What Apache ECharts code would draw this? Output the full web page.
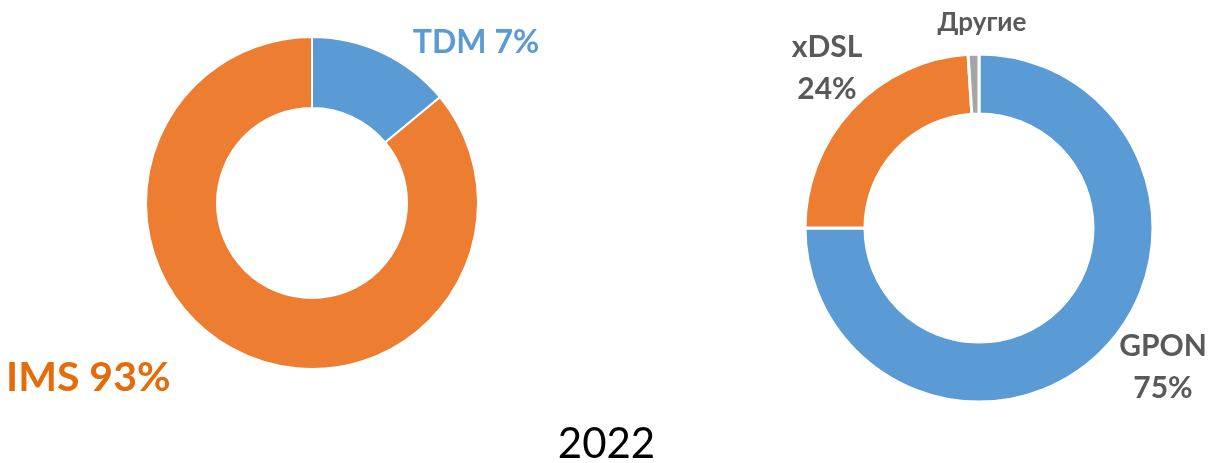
<!DOCTYPE html>
<html>
<head>
<meta charset="utf-8">
<script src="https://cdn.jsdelivr.net/npm/echarts@6/dist/echarts.min.js"></script>
<style>
  html, body { margin: 0; padding: 0; background: #fff; }
  #main { width: 1213px; height: 463px; }
</style>
</head>
<body>
<div id="main"></div>
<script>
// left donut: voice (slice sizes as drawn in the picture)
var voiceNames = ["TDM", "IMS"];
var voiceValues = [14, 86];
var voiceLabels = ["TDM 7%", "IMS 93%"];

// right donut: access
var accessNames = ["GPON", "xDSL", "Другие"];
var accessValues = [75, 24, 1];
var accessLabels = ["GPON\n75%", "xDSL\n24%", "Другие"];

var yearLabel = "2022";

var blue = "#5b9bd5", orange = "#ed7d31", grey = "#a5a5a5";

// label anchor points (pixels)
var voicePos = [[476, 43, "center"], [6, 378, "left"]];
var accessPos = [[1163, 367], [827, 68], [982, 23]];

var myChart = echarts.init(document.getElementById("main"));

var option = {
  animation: false,
  title: {
    text: yearLabel,
    left: "center",
    top: 418,
    textStyle: { fontFamily: "Lato", fontSize: 42, fontWeight: "normal", color: "#000" }
  },
  series: [
    {
      type: "pie",
      center: [312, 203],
      radius: [95, 166],
      startAngle: 90,
      avoidLabelOverlap: false,
      itemStyle: { borderColor: "#fff", borderWidth: 2 },
      label: {
        show: true,
        position: "outside",
        fontFamily: "Lato",
        fontWeight: "bold",
        formatter: function (p) { return voiceLabels[p.dataIndex]; }
      },
      labelLine: { show: false },
      labelLayout: function (p) {
        var q = voicePos[p.dataIndex];
        return { x: q[0], y: q[1], align: q[2], verticalAlign: "middle" };
      },
      data: voiceNames.map(function (n, i) {
        return {
          name: n,
          value: voiceValues[i],
          itemStyle: { color: [blue, orange][i] },
          label: i === 0 ? { fontSize: 32, color: "#5b9bd5" } : { fontSize: 41, color: "#e46c0a" }
        };
      })
    },
    {
      type: "pie",
      center: [979, 228],
      radius: [114, 174],
      startAngle: 90,
      avoidLabelOverlap: false,
      itemStyle: { borderColor: "#fff", borderWidth: 3 },
      label: {
        show: true,
        position: "outside",
        fontFamily: "Lato",
        fontWeight: "bold",
        color: "#595959",
        fontSize: 30,
        lineHeight: 42,
        formatter: function (p) { return accessLabels[p.dataIndex]; }
      },
      labelLine: { show: false },
      labelLayout: function (p) {
        return { x: accessPos[p.dataIndex][0], y: accessPos[p.dataIndex][1], align: "center", verticalAlign: "middle" };
      },
      data: accessNames.map(function (n, i) {
        return {
          name: n,
          value: accessValues[i],
          itemStyle: { color: [blue, orange, grey][i] },
          label: i === 2 ? { fontSize: 26, lineHeight: 28 } : {}
        };
      })
    }
  ]
};
myChart.setOption(option);
</script>
</body>
</html>
